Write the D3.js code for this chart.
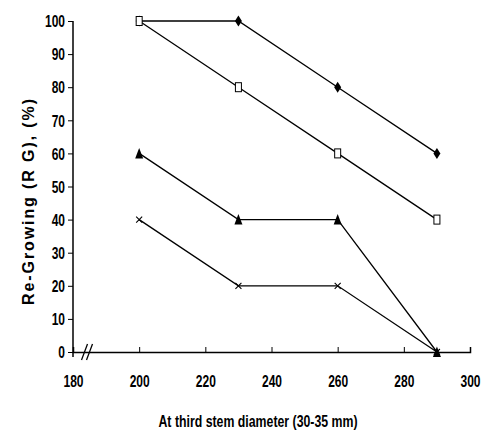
<!DOCTYPE html>
<html><head><meta charset="utf-8">
<script src="https://cdn.jsdelivr.net/npm/d3@7"></script>
<style>body{margin:0;background:#fff}svg{display:block}</style>
</head><body>
<script>
const xValues = [200, 230, 260, 290];
const seriesDiamond = [100, 100, 80, 60];
const seriesSquare = [100, 80, 60, 40];
const seriesTriangle = [60, 40, 40, 0];
const seriesCross = [40, 20, 20, 0];
const xTicks = [180, 200, 220, 240, 260, 280, 300];
const yTicks = [0, 10, 20, 30, 40, 50, 60, 70, 80, 90, 100];
const xTitle = "At third stem diameter (30-35 mm)";
const yTitle = "Re-Growing (R G), (%)";

const W = 481, H = 444;
const svg = d3.select("body").append("svg").attr("width", W).attr("height", H);
const x = d3.scaleLinear().domain([180, 300]).range([73, 470]);
const y = d3.scaleLinear().domain([0, 100]).range([352, 21]);
const font = "'Liberation Sans',Arial,sans-serif";
const SX = 0.75;

// axes
const gx = svg.append("g").attr("transform", `translate(0,${y(0)})`)
  .call(d3.axisBottom(x).tickValues(xTicks).tickSize(-5).tickPadding(0).tickFormat(d3.format("d")));
gx.select(".domain").attr("stroke", "#000").attr("stroke-width", 1.5);
gx.selectAll(".tick line").attr("stroke", "#000");
gx.selectAll(".tick text").attr("y", 35).attr("dy", 0).attr("transform", `scale(${SX},1)`)
  .style("font-family", font).style("font-weight", "bold").style("font-size", "16px").attr("fill", "#000");

const gy = svg.append("g").attr("transform", `translate(${x(180)},0)`)
  .call(d3.axisLeft(y).tickValues(yTicks).tickSize(5).tickFormat(d3.format("d")));
gy.select(".domain").attr("stroke", "#000").attr("stroke-width", 1.5).attr("d", `M0,${y(100)}V${y(0)+5}`);
gy.selectAll(".tick line").attr("stroke", "#000");
gy.selectAll(".tick text").attr("x", -8 / SX).attr("dy", "0.36em").attr("transform", `scale(${SX},1)`)
  .style("font-family", font).style("font-weight", "bold").style("font-size", "16px").attr("fill", "#000");

// axis break
const bx = 87, by = y(0);
[-2.5, 2.5].forEach(o => {
  svg.append("line").attr("x1", bx + o - 3).attr("y1", by + 8).attr("x2", bx + o + 3).attr("y2", by - 8)
    .attr("stroke", "#000").attr("stroke-width", 1.3);
});

// lines
const line = d3.line().x((d, i) => x(xValues[i])).y(d => y(d));
const allSeries = [
  {v: seriesDiamond, m: "diamond"},
  {v: seriesSquare, m: "square"},
  {v: seriesTriangle, m: "triangle"},
  {v: seriesCross, m: "cross"}
];
allSeries.forEach(s => {
  svg.append("path").attr("d", line(s.v)).attr("fill", "none").attr("stroke", "#000").attr("stroke-width", 1.3);
});
function marker(type, cx, cy) {
  if (type === "diamond") {
    svg.append("path").attr("d", `M${cx},${cy-5.5}L${cx+3.5},${cy}L${cx},${cy+5.5}L${cx-3.5},${cy}Z`).attr("fill", "#000");
  } else if (type === "square") {
    svg.append("rect").attr("x", cx - 3).attr("y", cy - 4.5).attr("width", 6).attr("height", 9)
      .attr("fill", "#fff").attr("stroke", "#000").attr("stroke-width", 1);
  } else if (type === "triangle") {
    svg.append("path").attr("d", `M${cx},${cy-5.5}L${cx+4},${cy+5}L${cx-4},${cy+5}Z`).attr("fill", "#000");
  } else {
    svg.append("path").attr("d", `M${cx-3},${cy-3}L${cx+3},${cy+3}M${cx+3},${cy-3}L${cx-3},${cy+3}`)
      .attr("stroke", "#000").attr("stroke-width", 1.1);
  }
}
allSeries.forEach(s => s.v.forEach((d, i) => marker(s.m, x(xValues[i]), y(d))));

// titles
svg.append("text").attr("transform", `translate(258,427) scale(0.77,1)`).attr("text-anchor", "middle")
  .style("font-family", font).style("font-weight", "bold").style("font-size", "16px").text(xTitle);
svg.append("text").attr("transform", `translate(34,201) rotate(-90)`).attr("text-anchor", "middle")
  .style("font-family", font).style("font-weight", "bold").style("font-size", "16px")
  .style("letter-spacing", "1.9px").text(yTitle);
</script>
</body></html>
